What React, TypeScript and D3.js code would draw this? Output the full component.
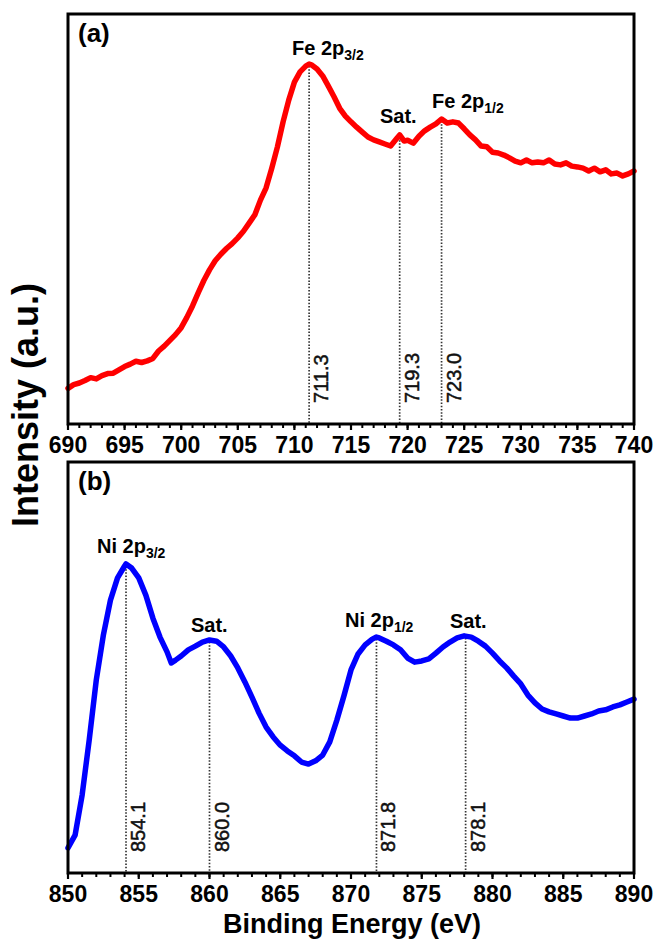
import React from 'react'
import * as d3 from 'd3'

// Fe 2p spectrum (panel a)
const energyFe = [
  690, 690.5, 691, 691.5, 692, 692.5, 693, 693.5, 694, 694.5, 695, 695.5, 696, 696.5, 697, 697.5,
  698, 698.5, 699, 699.5, 700, 700.5, 701, 701.5, 702, 702.5, 703, 703.5, 704, 704.5, 705, 705.5,
  706, 706.5, 707, 707.5, 708, 708.5, 709, 709.5, 710, 710.5, 711, 711.3, 711.5, 712, 712.5, 713,
  713.5, 714, 714.5, 715, 715.5, 716, 716.5, 717, 717.5, 718, 718.5, 719, 719.3, 719.7, 720, 720.5,
  721, 721.5, 722, 722.5, 723, 723.5, 724, 724.5, 725, 725.5, 726, 726.5, 727, 727.5, 728, 728.5,
  729, 729.5, 730, 730.5, 731, 731.5, 732, 732.5, 733, 733.5, 734, 734.5, 735, 735.5, 736, 736.5,
  737, 737.5, 738, 738.5, 739, 739.5, 740,
]
const intensityFe = [
  8.7, 9.6, 10.0, 10.6, 11.3, 11.0, 11.8, 12.3, 12.4, 13.2, 14.0, 14.6, 15.3, 15.0, 15.4, 16.0,
  17.8, 19.0, 20.4, 21.8, 23.5, 26.0, 28.8, 32.0, 35.0, 37.6, 39.8, 41.4, 42.8, 44.0, 45.4, 47.0,
  49.0, 51.0, 54.6, 57.6, 62.4, 67.6, 73.7, 79.0, 83.4, 85.9, 87.3, 87.8, 87.6, 86.6, 84.9, 82.4,
  79.8, 77.0, 75.1, 73.7, 72.4, 71.2, 70.0, 69.3, 68.8, 68.3, 67.8, 69.5, 70.5, 69.0, 69.2, 68.5,
  70.2, 71.5, 72.4, 73.2, 74.4, 73.4, 73.7, 73.4, 72.0, 70.5, 69.3, 67.8, 67.6, 66.3, 66.1, 65.6,
  64.9, 64.1, 63.7, 64.4, 63.7, 63.9, 63.7, 64.4, 63.4, 63.2, 63.7, 62.9, 62.7, 62.4, 61.7, 62.4,
  61.5, 62.0, 61.0, 61.2, 60.5, 61.0, 61.7,
]

// Ni 2p spectrum (panel b)
const energyNi = [
  850, 850.5, 851, 851.5, 852, 852.5, 853, 853.5, 854, 854.1, 854.5, 855, 855.5, 856, 856.5, 857,
  857.3, 857.6, 858, 858.5, 859, 859.5, 860, 860.5, 861, 861.5, 862, 862.5, 863, 863.5, 864, 864.5,
  865, 865.5, 866, 866.5, 867, 867.5, 868, 868.5, 869, 869.5, 870, 870.5, 871, 871.5, 871.8, 872,
  872.5, 873, 873.5, 874, 874.5, 875, 875.5, 876, 876.5, 877, 877.5, 878, 878.5, 879, 879.5, 880,
  880.5, 881, 881.5, 882, 882.5, 883, 883.5, 884, 884.5, 885, 885.5, 886, 886.5, 887, 887.5, 888,
  888.5, 889, 889.5, 890,
]
const intensityNi = [
  6.1, 9.2, 19.0, 32.4, 47.0, 57.9, 66.4, 71.8, 74.7, 75.2, 74.2, 71.8, 67.6, 62.0, 57.4, 53.8,
  51.1, 51.8, 52.8, 54.3, 55.2, 56.2, 56.7, 56.4, 55.0, 52.8, 49.9, 46.5, 42.8, 38.9, 35.5, 33.1,
  31.1, 29.7, 28.5, 27.0, 26.5, 27.3, 28.7, 31.9, 37.2, 43.1, 49.4, 53.3, 55.5, 56.9, 57.4, 57.2,
  56.4, 55.5, 54.3, 52.3, 51.3, 51.6, 52.1, 53.5, 55.0, 56.2, 57.2, 57.7, 57.4, 56.4, 55.2, 53.5,
  51.6, 49.9, 47.9, 46.0, 43.3, 41.4, 39.9, 39.2, 38.7, 38.2, 37.7, 37.7, 38.2, 38.7, 39.4, 39.7,
  40.4, 40.9, 41.6, 42.3,
]

const peaksFe = [711.3, 719.3, 723.0]
const peakLabelsFe = ['711.3', '719.3', '723.0']
const peaksNi = [854.1, 860.0, 871.8, 878.1]
const peakLabelsNi = ['854.1', '860.0', '871.8', '878.1']

const W = 656
const H = 939
const left = 68
const right = 634
const font = 'Arial, "Liberation Sans", sans-serif'

type PanelProps = {
  energy: number[]
  intensity: number[]
  domain: [number, number]
  top: number
  bottom: number
  color: string
  peaks: number[]
  peakLabels: string[]
  tag: string
  names: { text: string; sub?: string; x: number; y: number }[]
}

const Panel = ({ energy, intensity, domain, top, bottom, color, peaks, peakLabels, tag, names }: PanelProps) => {
  const x = d3.scaleLinear().domain(domain).range([left, right])
  const y = d3.scaleLinear().domain([0, 100]).range([bottom, top])
  const pts = energy.map((e, i) => [e, intensity[i]] as [number, number])
  const line = d3
    .line<[number, number]>()
    .x((d) => x(d[0]))
    .y((d) => y(d[1]))
  const interp = (e: number) => {
    const i = d3.bisectLeft(energy, e)
    if (energy[i] === e) return intensity[i]
    const t = (e - energy[i - 1]) / (energy[i] - energy[i - 1])
    return intensity[i - 1] + t * (intensity[i] - intensity[i - 1])
  }
  const minor = d3.range(domain[0], domain[1] + 0.5, 1)
  const major = x.ticks(Math.round((domain[1] - domain[0]) / 5))

  return (
    <g>
      {/* dotted guide lines */}
      {peaks.map((p, i) => (
        <g key={p}>
          <line
            x1={x(p)}
            x2={x(p)}
            y1={y(interp(p)) + 2}
            y2={bottom}
            stroke='#333'
            strokeWidth={1.7}
            strokeDasharray='1.5,1.7'
          />
          <text
            transform={`translate(${x(p) + 19},${bottom - 21}) rotate(-90)`}
            fontFamily={font}
            fontSize={20}
            fill='#111'
            stroke='#111'
            strokeWidth={0.5}
          >
            {peakLabels[i]}
          </text>
        </g>
      ))}
      <path d={line(pts) || ''} fill='none' stroke={color} strokeWidth={5.5} strokeLinejoin='round' strokeLinecap='round' />
      {/* frame */}
      <rect x={left} y={top} width={right - left} height={bottom - top} fill='none' stroke='#000' strokeWidth={3} />
      {minor.map((t) => (
        <line key={t} x1={x(t)} x2={x(t)} y1={bottom} y2={bottom + 4} stroke='#000' strokeWidth={2} />
      ))}
      {major.map((t) => (
        <g key={'m' + t}>
          <line x1={x(t)} x2={x(t)} y1={bottom} y2={bottom + 6} stroke='#000' strokeWidth={2.2} />
          <text x={x(t)} y={bottom + 29} textAnchor='middle' fontFamily={font} fontWeight='bold' fontSize={23}>
            {t}
          </text>
        </g>
      ))}
      <text x={left + 10} y={top + 28} fontFamily={font} fontWeight='bold' fontSize={26}>
        {tag}
      </text>
      {names.map((n, i) => (
        <text key={i} x={n.x} y={n.y} fontFamily={font} fontWeight='bold' fontSize={20}>
          {n.text}
          {n.sub && (
            <tspan fontSize={14} dy={5}>
              {n.sub}
            </tspan>
          )}
        </text>
      ))}
    </g>
  )
}

export default function App() {
  return (
    <svg width={W} height={H} style={{ position: 'absolute', left: 0, top: 0, background: '#fff' }}>
      <rect width={W} height={H} fill='#fff' />
      <Panel
        energy={energyFe}
        intensity={intensityFe}
        domain={[690, 740]}
        top={14}
        bottom={424}
        color='#ff0000'
        peaks={peaksFe}
        peakLabels={peakLabelsFe}
        tag='(a)'
        names={[
          { text: 'Fe 2p', sub: '3/2', x: 292, y: 55 },
          { text: 'Sat.', x: 380, y: 123 },
          { text: 'Fe 2p', sub: '1/2', x: 432, y: 108 },
        ]}
      />
      <Panel
        energy={energyNi}
        intensity={intensityNi}
        domain={[850, 890]}
        top={462}
        bottom={873}
        color='#0000ff'
        peaks={peaksNi}
        peakLabels={peakLabelsNi}
        tag='(b)'
        names={[
          { text: 'Ni 2p', sub: '3/2', x: 97, y: 553 },
          { text: 'Sat.', x: 191, y: 632 },
          { text: 'Ni 2p', sub: '1/2', x: 345, y: 627 },
          { text: 'Sat.', x: 450, y: 628 },
        ]}
      />
      <text x={352} y={933} textAnchor='middle' fontFamily={font} fontWeight='bold' fontSize={27}>
        Binding Energy (eV)
      </text>
      <text
        transform='translate(38,405) rotate(-90)'
        textAnchor='middle'
        fontFamily={font}
        fontWeight='bold'
        fontSize={36}
      >
        Intensity (a.u.)
      </text>
    </svg>
  )
}
